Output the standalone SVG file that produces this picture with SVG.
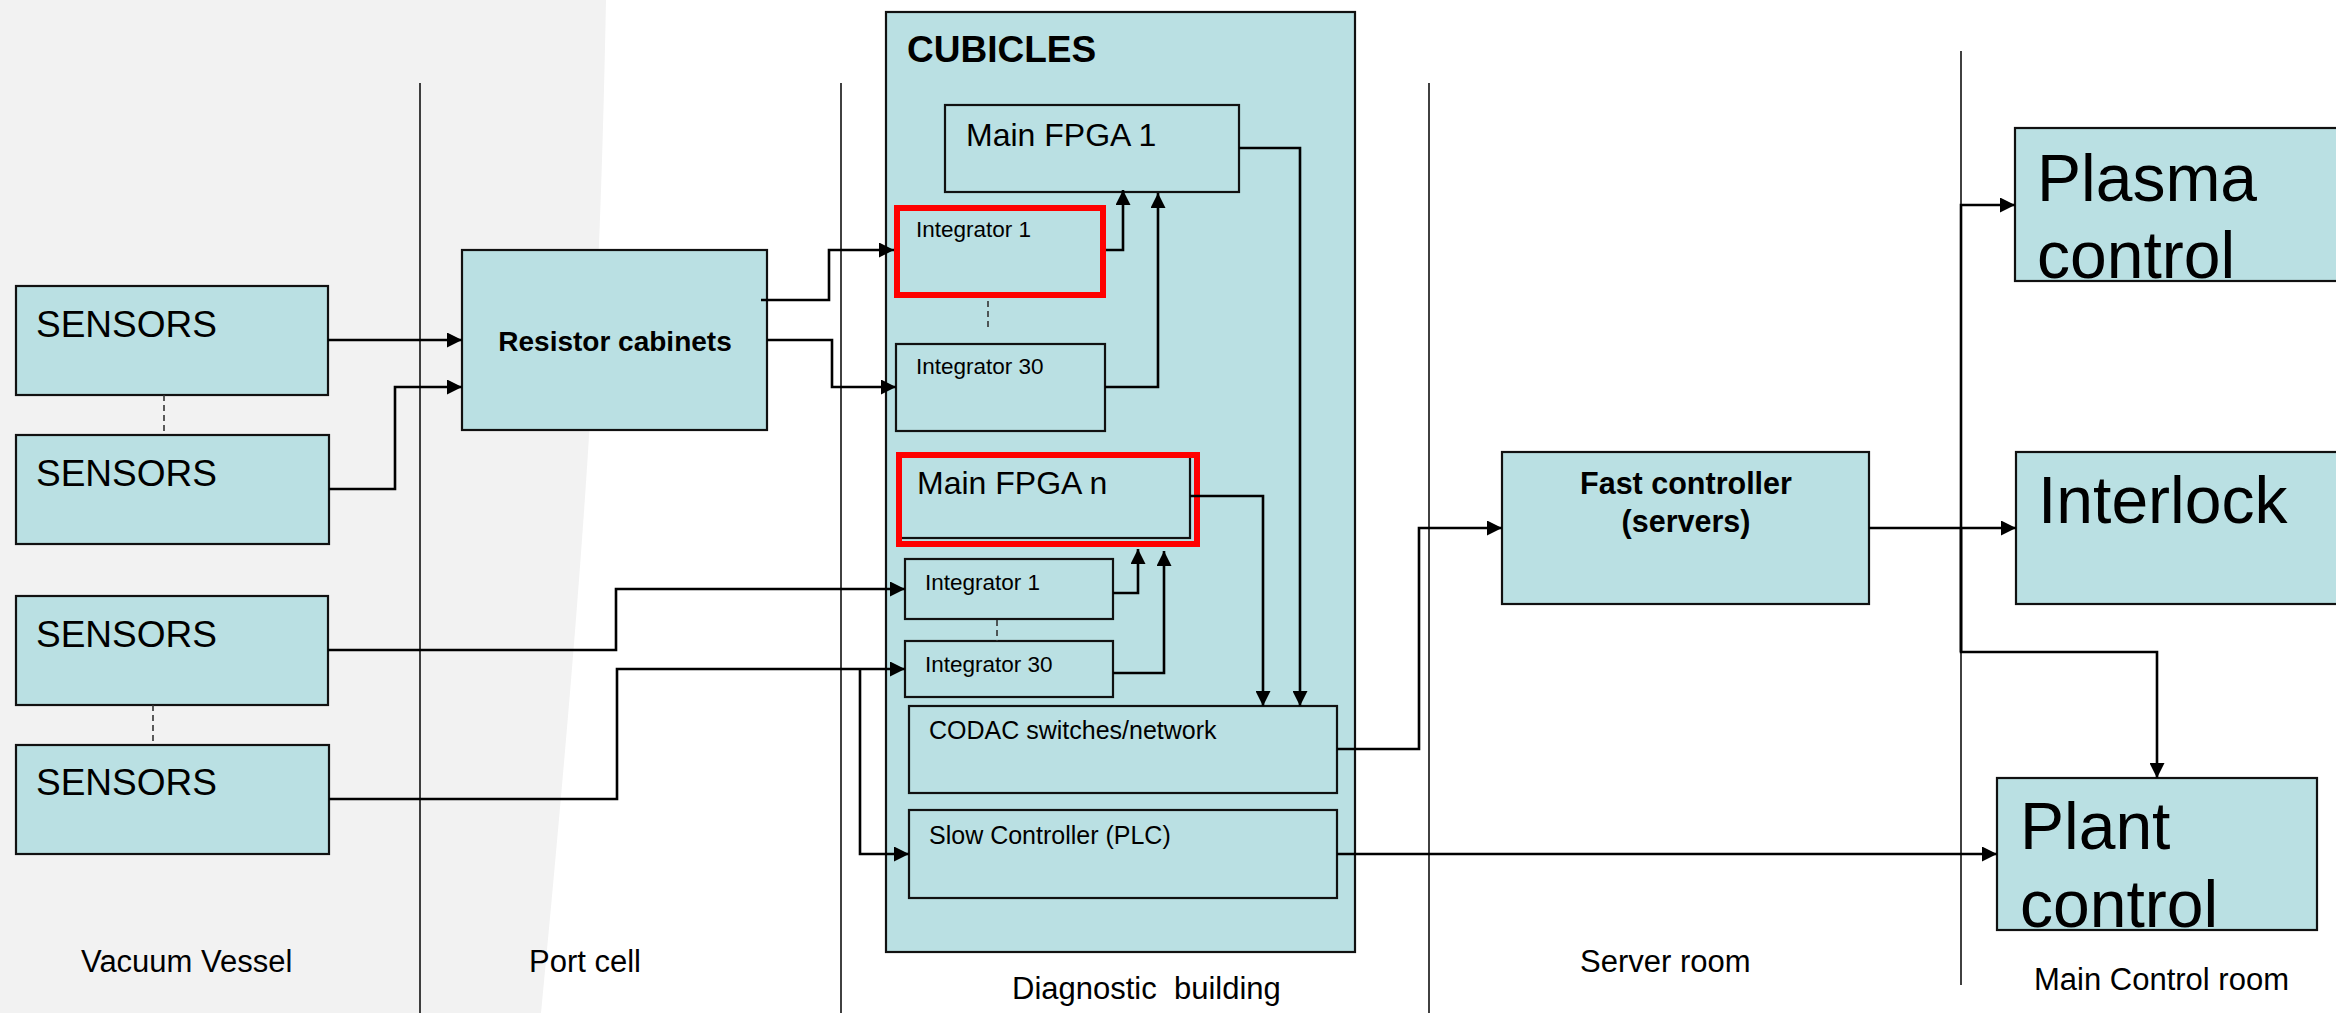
<svg xmlns="http://www.w3.org/2000/svg" width="2336" height="1013" viewBox="0 0 2336 1013">
<style>
.box{fill:#BAE0E3;stroke:#111;stroke-width:2.2}
.red{fill:none;stroke:#FF0000;stroke-width:6}
.div{stroke:#111;stroke-width:1.6;fill:none}
.dash{stroke:#333;stroke-width:1.6;stroke-dasharray:6 4;fill:none}
.con{stroke:#000;stroke-width:2.6;fill:none}
text{font-family:"Liberation Sans",Arial,sans-serif;fill:#000}
.s{font-size:37px}
.b{font-weight:bold}
.lab{font-size:31px}
.big{font-size:66px}
.mid{font-size:32px}
.sm{font-size:22.5px}
.md{font-size:25px}
</style>
<defs>
<marker id="a" viewBox="0 0 10 10" refX="10" refY="5" markerWidth="15" markerHeight="15" markerUnits="userSpaceOnUse" orient="auto"><path d="M0,0 L10,5 L0,10 z" fill="#000"/></marker>
</defs>
<rect x="0" y="0" width="2336" height="1013" fill="#FFFFFF"/>
<path d="M0,0 H606 C600,300 590,500 541,1013 H0 Z" fill="#F2F2F2"/>
<g id="dividers">
<line class="div" x1="420" y1="83" x2="420" y2="1013"/>
<line class="div" x1="841" y1="83" x2="841" y2="1013"/>
<line class="div" x1="1429" y1="83" x2="1429" y2="1013"/>
<line class="div" x1="1961" y1="51" x2="1961" y2="985"/>
</g>
<g id="cubicles"><rect class="box" x="886" y="12" width="469" height="940"/><text class="b" x="907" y="62" font-size="37">CUBICLES</text></g>
<g id="sensors1"><rect class="box" x="16" y="286" width="312" height="109"/><text class="s" x="36" y="337">SENSORS</text></g>
<g id="sensors2"><rect class="box" x="16" y="435" width="313" height="109"/><text class="s" x="36" y="486">SENSORS</text></g>
<g id="sensors3"><rect class="box" x="16" y="596" width="312" height="109"/><text class="s" x="36" y="647">SENSORS</text></g>
<g id="sensors4"><rect class="box" x="16" y="745" width="313" height="109"/><text class="s" x="36" y="795">SENSORS</text></g>
<g id="resistor"><rect class="box" x="462" y="250" width="305" height="180"/><text class="b" x="615" y="351" font-size="28" text-anchor="middle">Resistor cabinets</text></g>
<g id="fpga1"><rect class="box" x="945" y="105" width="294" height="87"/><text class="mid" x="966" y="146">Main FPGA 1</text></g>
<g id="int1a"><rect class="red" x="897" y="208" width="206" height="87" fill="#BAE0E3"/><text class="sm" x="916" y="237">Integrator 1</text></g>
<g id="int30a"><rect class="box" x="896" y="344" width="209" height="87"/><text class="sm" x="916" y="374">Integrator 30</text></g>
<g id="fpgan"><rect class="box" x="898" y="455" width="292" height="83"/><rect class="red" x="899" y="455" width="298" height="89"/><text class="mid" x="917" y="494">Main FPGA n</text></g>
<g id="int1b"><rect class="box" x="905" y="559" width="208" height="60"/><text class="sm" x="925" y="590">Integrator 1</text></g>
<g id="int30b"><rect class="box" x="905" y="641" width="208" height="56"/><text class="sm" x="925" y="672">Integrator 30</text></g>
<g id="codac"><rect class="box" x="909" y="706" width="428" height="87"/><text class="md" x="929" y="739">CODAC switches/network</text></g>
<g id="slow"><rect class="box" x="909" y="810" width="428" height="88"/><text class="md" x="929" y="844">Slow Controller (PLC)</text></g>
<g id="fast"><rect class="box" x="1502" y="452" width="367" height="152"/><text class="b" x="1686" y="494" font-size="30.5" text-anchor="middle">Fast controller</text><text class="b" x="1686" y="532" font-size="30.5" text-anchor="middle">(servers)</text></g>
<g id="plasma"><rect class="box" x="2015" y="128" width="330" height="153"/><text class="big" x="2037" y="201">Plasma</text><text class="big" x="2037" y="278">control</text></g>
<g id="interlock"><rect class="box" x="2016" y="452" width="330" height="152"/><text class="big" x="2038" y="523" font-size="68">Interlock</text></g>
<g id="plant"><rect class="box" x="1997" y="778" width="320" height="152"/><text class="big" x="2020" y="849">Plant</text><text class="big" x="2020" y="927">control</text></g>
<g id="dashes">
<line class="dash" x1="164" y1="395" x2="164" y2="435"/>
<line class="dash" x1="153" y1="705" x2="153" y2="745"/>
<line class="dash" x1="988" y1="301" x2="988" y2="331"/>
<line class="dash" x1="997" y1="620" x2="997" y2="641"/>
</g>
<g id="connectors">
<path class="con" d="M328,340 H462" marker-end="url(#a)"/>
<path class="con" d="M329,489 H395 V387 H462" marker-end="url(#a)"/>
<path class="con" d="M761,300 H829 V250 H894" marker-end="url(#a)"/>
<path class="con" d="M767,340 H832 V387 H896" marker-end="url(#a)"/>
<path class="con" d="M1106,250 H1123 V190" marker-end="url(#a)"/>
<path class="con" d="M1105,387 H1158 V193" marker-end="url(#a)"/>
<path class="con" d="M328,650 H616 V589 H905" marker-end="url(#a)"/>
<path class="con" d="M329,799 H617 V669 H905" marker-end="url(#a)"/>
<path class="con" d="M860,669 V854 H909" marker-end="url(#a)"/>
<path class="con" d="M1113,593 H1138 V549" marker-end="url(#a)"/>
<path class="con" d="M1113,673 H1164 V551" marker-end="url(#a)"/>
<path class="con" d="M1190,496 H1263 V706" marker-end="url(#a)"/>
<path class="con" d="M1239,148 H1300 V706" marker-end="url(#a)"/>
<path class="con" d="M1337,749 H1419 V528 H1502" marker-end="url(#a)"/>
<path class="con" d="M1869,528 H2016" marker-end="url(#a)"/>
<path class="con" d="M1961,652 V205 H2015" marker-end="url(#a)"/>
<path class="con" d="M1961,528 V652 H2157 V778" marker-end="url(#a)"/>
<path class="con" d="M1337,854 H1997" marker-end="url(#a)"/>
</g>
<g id="labels">
<text class="lab" x="81" y="972" font-size="32">Vacuum Vessel</text>
<text class="lab" x="529" y="972">Port cell</text>
<text class="lab" x="1012" y="999" xml:space="preserve">Diagnostic  building</text>
<text class="lab" x="1580" y="972">Server room</text>
<text class="lab" x="2034" y="990">Main Control room</text>
</g>
</svg>
